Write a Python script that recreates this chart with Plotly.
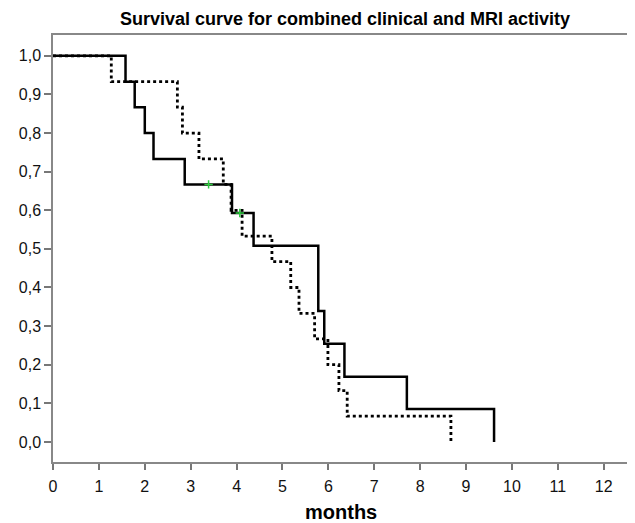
import plotly.graph_objects as go

# Kaplan-Meier step data (months, survival proportion)
solid_times = [0, 1.58, 1.78, 2.0, 2.19, 2.87, 3.90, 4.37, 5.78, 5.91, 6.35, 7.71, 9.61]
solid_surv = [1.0, 0.933, 0.867, 0.80, 0.733, 0.667, 0.593, 0.508, 0.339, 0.254, 0.169, 0.085, 0.0]

dotted_times = [0, 1.27, 2.71, 2.82, 3.18, 3.71, 3.88, 4.12, 4.77, 5.18, 5.36, 5.70, 5.99, 6.23, 6.41, 8.67]
dotted_surv = [1.0, 0.933, 0.867, 0.80, 0.733, 0.667, 0.60, 0.533, 0.467, 0.40, 0.333, 0.267, 0.20, 0.133, 0.067, 0.0]

censor_times = [3.39, 4.07]
censor_surv = [0.667, 0.593]

x_ticks = list(range(0, 13))
y_ticks = [0.0, 0.1, 0.2, 0.3, 0.4, 0.5, 0.6, 0.7, 0.8, 0.9, 1.0]
y_ticktext = ["0,0", "0,1", "0,2", "0,3", "0,4", "0,5", "0,6", "0,7", "0,8", "0,9", "1,0"]

FONT = "Liberation Sans, Arial, sans-serif"
W, H = 627, 515  # page body has an 8px margin

fig = go.Figure()
fig.add_trace(go.Scatter(x=dotted_times, y=dotted_surv, mode="lines", line_shape="hv",
                         line=dict(color="black", width=2.8, dash="dot"), showlegend=False))
fig.add_trace(go.Scatter(x=solid_times, y=solid_surv, mode="lines", line_shape="hv",
                         line=dict(color="black", width=2.5), showlegend=False))
fig.add_trace(go.Scatter(x=censor_times, y=censor_surv, mode="markers",
                         marker=dict(symbol="cross-thin", size=6, color="#2ecc40",
                                     line=dict(color="#2ecc40", width=1.5)),
                         showlegend=False))

axis_font = dict(family=FONT, size=16, color="#111")
fig.update_layout(
    width=W, height=H,
    margin=dict(l=45, r=4, t=27, b=61),
    plot_bgcolor="white", paper_bgcolor="white",
    title=dict(text="<b>Survival curve for combined clinical and MRI activity</b>",
               x=337 / W, xref="container", xanchor="center",
               y=1 - 10.5 / H, yref="container", yanchor="middle",
               font=dict(family=FONT, size=18, color="black")),
    xaxis=dict(range=[0, 12.55], tickvals=x_ticks, ticks="outside", ticklen=6, tickwidth=1.5,
               tickcolor="#777", showline=True, linecolor="#888", linewidth=1.5, mirror=True,
               showgrid=False, zeroline=False, tickfont=axis_font, ticklabelstandoff=3),
    yaxis=dict(range=[-0.052, 1.054], tickvals=y_ticks, ticktext=y_ticktext, ticks="outside",
               ticklen=7, tickwidth=1.5, tickcolor="#777", showline=True, linecolor="#888",
               linewidth=1.5, mirror=True, showgrid=False, zeroline=False, tickfont=axis_font),
    annotations=[dict(text="<b>months</b>", xref="paper", yref="paper", x=0.5, y=-50 / 427,
                      xanchor="center", yanchor="middle", showarrow=False,
                      font=dict(family=FONT, size=20, color="black"))],
)
fig.write_html("out.html")
